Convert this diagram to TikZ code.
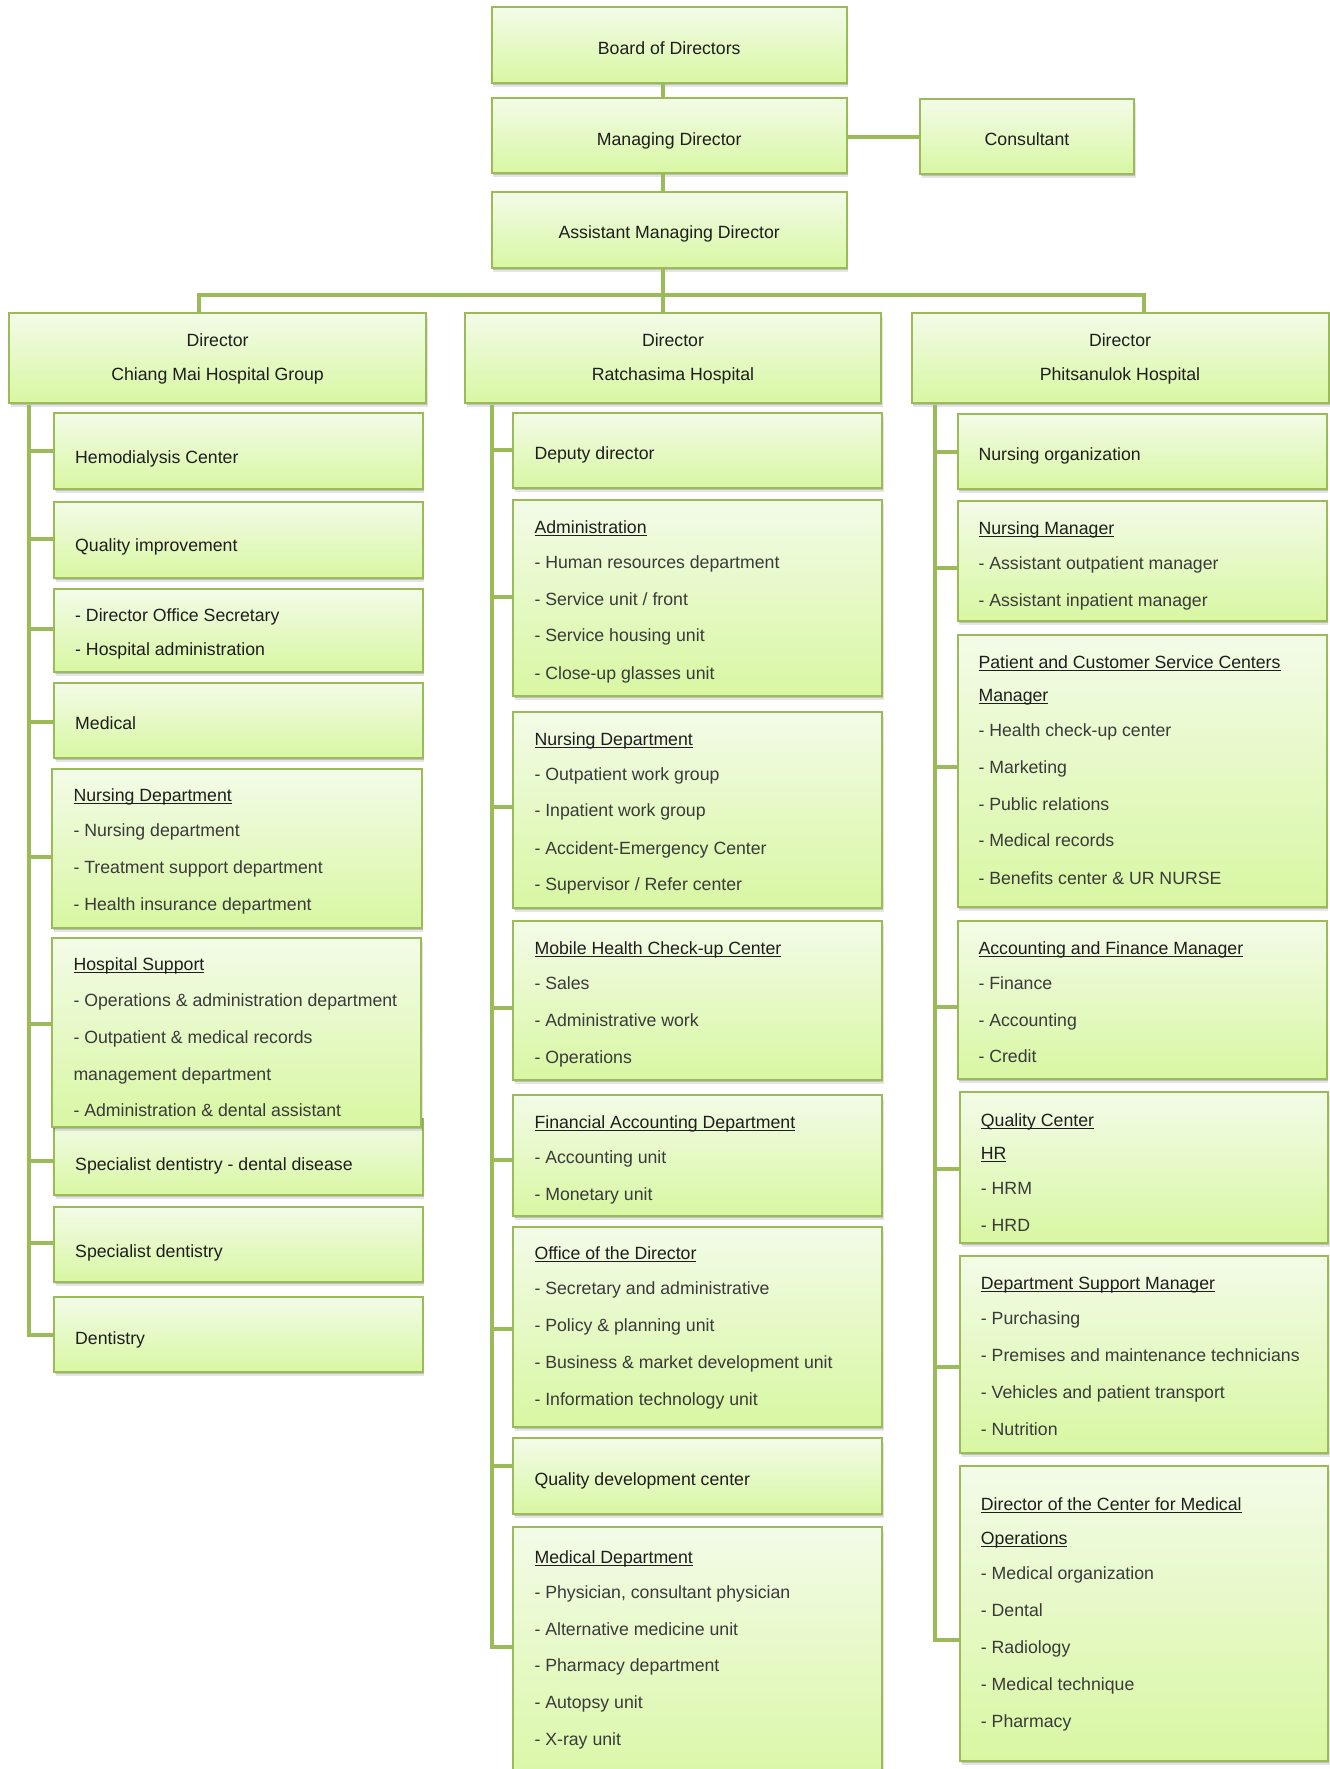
\documentclass[tikz,border=0pt]{standalone}
\usepackage{fontspec}
\setmainfont{Liberation Sans}
\usetikzlibrary{shadows,fit}
\definecolor{bd}{HTML}{9BBB59}
\definecolor{ftop}{HTML}{F3FBE8}
\definecolor{fbot}{HTML}{D8F7A2}
\definecolor{tdark}{HTML}{1E1E1E}
\definecolor{tgray}{HTML}{3A3A3A}
\newcommand\hd[1]{\textcolor{tdark}{\setbox0\hbox{#1}\rlap{\rule[-2.6pt]{\wd0}{1pt}}\box0}}
\newcommand\dk[1]{\textcolor{tdark}{#1}}
\tikzset{
  obox/.style={draw=bd, line width=2pt, top color=ftop, bottom color=fbot, inner sep=0pt,
    drop shadow={shadow xshift=1pt, shadow yshift=-2pt, opacity=0.16, fill=black},
    drop shadow={shadow xshift=1.5pt, shadow yshift=-4pt, opacity=0.10, fill=black}},
  conn/.style={draw=bd, line width=4pt},
  txt/.style={anchor=base west, inner sep=0pt, text=tgray, font=\fontsize{17.7}{20}\selectfont},
  ttl/.style={anchor=base, inner sep=0pt, text=tdark, font=\fontsize{17.7}{20}\selectfont},
}
\newcommand\obx[5]{\node[obox, fit={(#2,#3) (#4,#5)}] (#1) {};}
\newcommand\br[3]{\draw[conn] ([yshift=#3pt]#1.west) -| (#2);}
\newcommand\blines[3]{\foreach \by/\bt [count=\bi] in {#3} {\node[txt] (#1-\bi) at (#2,\by) {\bt};}}
\begin{document}
\begin{tikzpicture}[x=1pt,y=-1pt]
\fill[white] (0,0) rectangle (1330,1769);
\useasboundingbox (0,0) rectangle (1330,1769);
\clip (0,0) rectangle (1330,1769);

% bus and spine coordinates
\coordinate (busC) at (663,295);
\coordinate (busL) at (199,295);
\coordinate (busR) at (1144,295);
\coordinate (spL) at (29,405);
\coordinate (spM) at (492,405);
\coordinate (spR) at (935,405);

% top boxes
\obx{board}{491.7}{7.3}{846.7}{82.7}
\obx{md}{491.7}{97.7}{846.7}{173.3}
\obx{amd}{491.7}{192.3}{846.7}{267.7}
\obx{cons}{920}{99}{1134}{174.3}

% top connectors
\draw[conn] (board.south -| busC) -- (md.north -| busC);
\draw[conn] (md.south -| busC) -- (amd.north -| busC);
\draw[conn] (md.east |- cons.west) -- (cons.west);
\draw[conn] (amd.south -| busC) -- (busC) -- (663,314);
\draw[conn] (199,314) -- (busL) -- (busR) -- (1144,314);

% director boxes
\obx{dirL}{9.3}{312.7}{426}{403.3}
\obx{dirM}{465}{312.7}{881}{403.3}
\obx{dirR}{911.5}{312.7}{1328.7}{403.3}

% left column boxes
\obx{hemo}{54}{413.3}{422.7}{489}
\obx{qimp}{54}{501.7}{422.7}{577.5}
\obx{dos}{54}{589.3}{422.7}{671.7}
\obx{med}{54}{682.7}{422.7}{757.7}
\obx{nursL}{52.3}{769.3}{421.7}{927.7}
\obx{sdd}{54}{1119}{422.7}{1195}
\obx{hsup}{52.3}{938.3}{421}{1126.7}
\obx{sd}{54}{1206.7}{422.7}{1281.7}
\obx{dent}{54}{1296.7}{422.7}{1371.7}

% middle column boxes
\obx{dep}{513.3}{412.7}{882.3}{488.3}
\obx{adm}{513.3}{500}{882.3}{696}
\obx{nursM}{513.3}{712.3}{882.3}{908.3}
\obx{mob}{513.3}{921.4}{882.3}{1080.4}
\obx{fin}{513.3}{1095}{882.3}{1216}
\obx{off}{513.3}{1226.8}{882.3}{1426.8}
\obx{qdc}{513.3}{1438}{882.3}{1514}
\obx{medD}{513.3}{1526.7}{882.3}{1800}

% right column boxes
\obx{norg}{957.7}{414}{1326.7}{489.3}
\obx{nmgr}{957.7}{500.7}{1326.7}{621}
\obx{pcs}{957.7}{635}{1326.7}{906.7}
\obx{acc}{957.7}{920.7}{1326.7}{1079}
\obx{qc}{960}{1092.3}{1328.3}{1243.3}
\obx{dsm}{960}{1255.7}{1328.3}{1452.7}
\obx{dcm}{960}{1465.7}{1328.3}{1761}

% branches to spines
\br{hemo}{spL}{0.5}
\br{qimp}{spL}{0.6}
\br{dos}{spL}{1.5}
\br{med}{spL}{-2.1}
\br{nursL}{spL}{-8.2}
\br{hsup}{spL}{8.2}
\br{sdd}{spL}{-3.7}
\br{sd}{spL}{1.5}
\br{dent}{spL}{-0.8}

\br{dep}{spM}{0.5}
\br{adm}{spM}{1.3}
\br{nursM}{spM}{3.6}
\br{mob}{spM}{-6.6}
\br{fin}{spM}{-4.5}
\br{off}{spM}{-1.8}
\br{qdc}{spM}{10}
\br{medD}{spM}{16.35}

\br{norg}{spR}{0}
\br{nmgr}{spR}{-6.85}
\br{pcs}{spR}{4.15}
\br{acc}{spR}{-7.45}
\br{qc}{spR}{-1.2}
\br{dsm}{spR}{-12.8}
\br{dcm}{spR}{-26.65}

% texts: top
\node[ttl] (board-t) at (669.2,55) {Board of Directors};
\node[ttl] (md-t) at (669.2,145) {Managing Director};
\node[ttl] (amd-t) at (669.2,238.3) {Assistant Managing Director};
\node[ttl] (cons-t) at (1027,145.7) {Consultant};

\node[ttl] (dirL-a) at (217.6,346.7) {Director};
\node[ttl] (dirL-b) at (217.6,380.7) {Chiang Mai Hospital Group};
\node[ttl] (dirM-a) at (673,346.7) {Director};
\node[ttl] (dirM-b) at (673,380.7) {Ratchasima Hospital};
\node[ttl] (dirR-a) at (1120,346.7) {Director};
\node[ttl] (dirR-b) at (1120,380.7) {Phitsanulok Hospital};

% texts: left
\node[txt,text=tdark] (hemo-t) at (75,463.3) {Hemodialysis Center};
\node[txt,text=tdark] (qimp-t) at (75,551.3) {Quality improvement};
\blines{dos}{75}{621.7/{\dk{- Director Office Secretary}}, 655/{\dk{- Hospital administration}}}
\node[txt,text=tdark] (med-t) at (75,729) {Medical};
\blines{nursL}{73.3}{801.7/{\hd{Nursing Department}}, 836.7/{- Nursing department}, 873.3/{- Treatment support department}, 910/{- Health insurance department}}
\blines{hsup}{73.3}{970.7/{\hd{Hospital Support}}, 1006/{- Operations \& administration department}, 1043.3/{- Outpatient \& medical records}, 1080/{management department}, 1116.7/{- Administration \& dental assistant}}
\node[txt,text=tdark] (sdd-t) at (75,1170) {Specialist dentistry - dental disease};
\node[txt,text=tdark] (sd-t) at (75,1257.3) {Specialist dentistry};
\node[txt,text=tdark] (dent-t) at (75,1344) {Dentistry};

% texts: middle
\node[txt,text=tdark] (dep-t) at (534.3,459.3) {Deputy director};
\blines{adm}{534.3}{533.3/{\hd{Administration}}, 568.3/{- Human resources department}, 605/{- Service unit / front}, 641.7/{- Service housing unit}, 679/{- Close-up glasses unit}}
\blines{nursM}{534.3}{745/{\hd{Nursing Department}}, 780/{- Outpatient work group}, 816.7/{- Inpatient work group}, 854/{- Accident-Emergency Center}, 890.7/{- Supervisor / Refer center}}
\blines{mob}{534.3}{954.6/{\hd{Mobile Health Check-up Center}}, 989.3/{- Sales}, 1026/{- Administrative work}, 1063/{- Operations}}
\blines{fin}{534.3}{1128.6/{\hd{Financial Accounting Department}}, 1163.6/{- Accounting unit}, 1200.4/{- Monetary unit}}
\blines{off}{534.3}{1259.3/{\hd{Office of the Director}}, 1294.6/{- Secretary and administrative}, 1331.4/{- Policy \& planning unit}, 1368.2/{- Business \& market development unit}, 1405.4/{- Information technology unit}}
\node[txt,text=tdark] (qdc-t) at (534.3,1485.3) {Quality development center};
\blines{medD}{534.3}{1563.3/{\hd{Medical Department}}, 1598.3/{- Physician, consultant physician}, 1635/{- Alternative medicine unit}, 1671.7/{- Pharmacy department}, 1708.3/{- Autopsy unit}, 1745.7/{- X-ray unit}}

% texts: right
\node[txt,text=tdark] (norg-t) at (978.3,460.7) {Nursing organization};
\blines{nmgr}{978.3}{534.3/{\hd{Nursing Manager}}, 569.3/{- Assistant outpatient manager}, 606/{- Assistant inpatient manager}}
\blines{pcs}{978.3}{668.3/{\hd{Patient and Customer Service Centers}}, 701.7/{\hd{Manager}}, 736/{- Health check-up center}, 773.3/{- Marketing}, 810/{- Public relations}, 846.7/{- Medical records}, 884/{- Benefits center \& UR NURSE}}
\blines{acc}{978.3}{954/{\hd{Accounting and Finance Manager}}, 989/{- Finance}, 1026/{- Accounting}, 1062.7/{- Credit}}
\blines{qc}{980.7}{1126.7/{\hd{Quality Center}}, 1159.3/{\hd{HR}}, 1194.3/{- HRM}, 1231/{- HRD}}
\blines{dsm}{980.7}{1289.3/{\hd{Department Support Manager}}, 1324.3/{- Purchasing}, 1361/{- Premises and maintenance technicians}, 1398.3/{- Vehicles and patient transport}, 1435.5/{- Nutrition}}
\blines{dcm}{980.7}{1510/{\hd{Director of the Center for Medical}}, 1544.3/{\hd{Operations}}, 1579.3/{- Medical organization}, 1616/{- Dental}, 1653.3/{- Radiology}, 1690/{- Medical technique}, 1727.3/{- Pharmacy}}
\end{tikzpicture}
\end{document}
